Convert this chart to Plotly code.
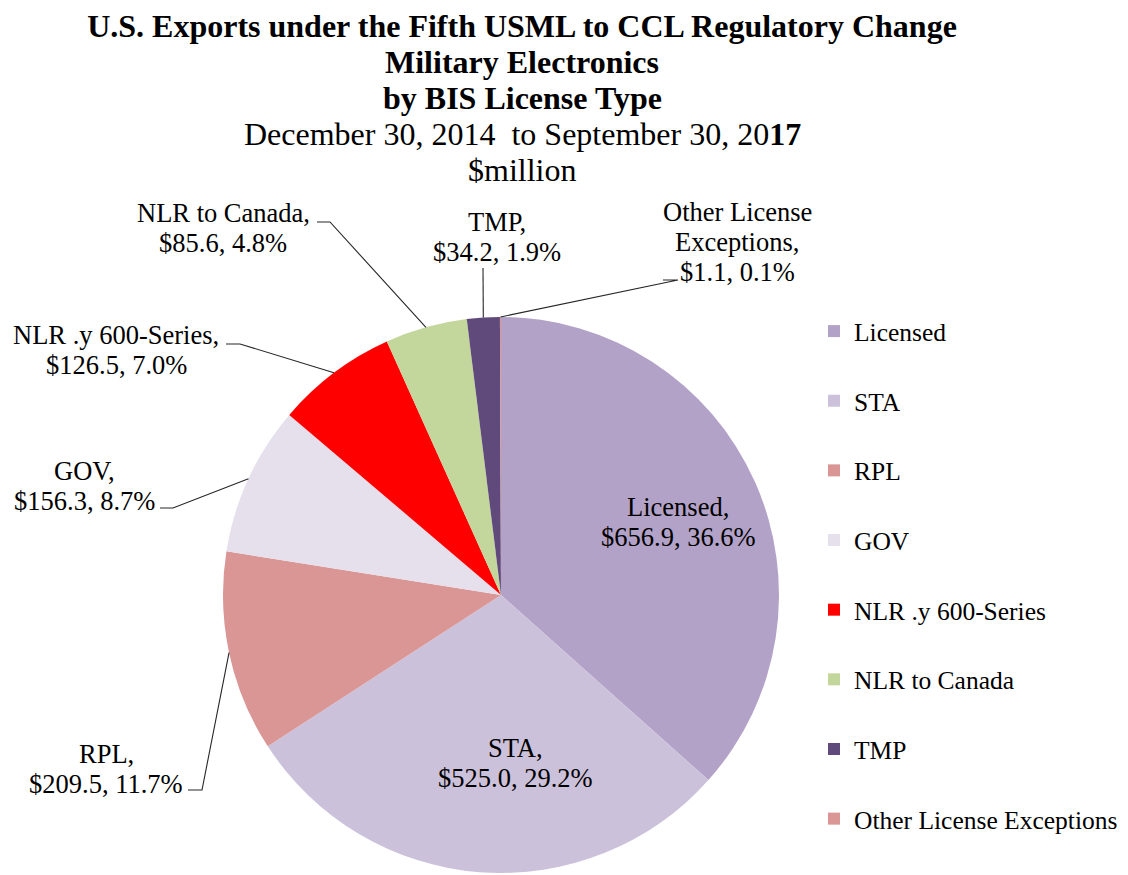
import math
import plotly.graph_objects as go

# ---- data ----
categories = ["Licensed", "STA", "RPL", "GOV", "NLR .y 600-Series",
              "NLR to Canada", "TMP", "Other License Exceptions"]
values = [656.9, 525.0, 209.5, 156.3, 126.5, 85.6, 34.2, 1.1]
colors = ["#B3A2C7", "#CCC1DA", "#D99694", "#E6E0EC", "#FF0000",
          "#C3D69B", "#604A7B", "#D99694"]
label_names = ["Licensed", "STA", "RPL", "GOV", "NLR .y 600-Series",
               "NLR to Canada", "TMP", "Other License<br>Exceptions"]

PAGE_W, PAGE_H = 1128, 875
OFF = 8  # default body margin of the html page
W, H = PAGE_W - OFF, PAGE_H - OFF
FONT = "Liberation Serif, Times New Roman, serif"
CX, CY, R = 501, 595, 278  # pie centre / radius in page pixels


def px(x):
    return (x - OFF) / W


def py(y):
    return 1 - (y - OFF) / H


fig = go.Figure()
fig.add_trace(go.Pie(
    labels=categories, values=values, sort=False, direction="clockwise",
    rotation=0, marker=dict(colors=colors, line=dict(width=0)),
    textinfo="none", showlegend=False, hoverinfo="label+value+percent",
    domain=dict(x=[px(CX - R), px(CX + R)], y=[py(CY + R), py(CY - R)]),
))

# legend entries (one group per category for spacing like the original)
for c, col in zip(categories, colors):
    fig.add_trace(go.Scatter(
        x=[None], y=[None], mode="markers", name=c, legendgroup=c,
        marker=dict(symbol="square", size=13, color=col),
    ))

total = sum(values)

# label placement: (text centre x, first line y, leader path points on label side)
placement = {
    "Licensed": dict(x=678, y=507, leader=None),
    "STA": dict(x=515, y=748, leader=None),
    "RPL": dict(x=106, y=754, leader=[(188, 790), (202, 790)]),
    "GOV": dict(x=84, y=471, leader=[(160, 508), (173, 508)]),
    "NLR .y 600-Series": dict(x=116, y=335, leader=[(226, 344), (240, 344)]),
    "NLR to Canada": dict(x=223, y=213, leader=[(317, 222), (330, 222)]),
    "TMP": dict(x=497, y=222, leader=[(483, 268)]),
    "Other License Exceptions": dict(x=737, y=212, leader=[(663, 280), (678, 280)]),
}

annotations = []
shapes = []
cum = 0.0
LINE = 30
for cat, name, v in zip(categories, label_names, values):
    frac = v / total
    mid = (cum + frac / 2) * 2 * math.pi
    cum += frac
    p = placement[cat]
    lines = (name + ",").split("<br>") + [f"${v:.1f}, {frac * 100:.1f}%"]
    for i, t in enumerate(lines):
        annotations.append(dict(
            text=t, x=px(p["x"]), y=py(p["y"] + i * LINE), xref="paper", yref="paper",
            xanchor="center", yanchor="middle", showarrow=False,
            font=dict(family=FONT, size=26.5, color="#000000"),
        ))
    if p["leader"]:
        ex = CX + R * math.sin(mid)
        ey = CY - R * math.cos(mid)
        pts = p["leader"] + [(ex, ey)]
        path = "M " + " L ".join(f"{px(a):.5f},{py(b):.5f}" for a, b in pts)
        shapes.append(dict(type="path", path=path, xref="paper", yref="paper",
                           line=dict(color="#262626", width=1.1)))

# title lines
title_lines = [
    ("<b>U.S. Exports under the Fifth USML to CCL Regulatory Change</b>", 26),
    ("<b>Military Electronics</b>", 62),
    ("<b>by BIS License Type</b>", 98),
    ("December 30, 2014  to September 30, 20<b>17</b>", 134),
    ("$million", 170),
]
for t, y in title_lines[1:]:
    annotations.append(dict(
        text=t, x=px(522), y=py(y), xref="paper", yref="paper",
        xanchor="center", yanchor="middle", showarrow=False,
        font=dict(family=FONT, size=32, color="#000000"),
    ))

fig.update_layout(
    width=W, height=H,
    margin=dict(l=0, r=0, t=0, b=0),
    paper_bgcolor="white", plot_bgcolor="white",
    title=dict(text=title_lines[0][0], x=px(522), xanchor="center",
               y=py(title_lines[0][1]), yanchor="middle",
               font=dict(family=FONT, size=32, color="#000000")),
    xaxis=dict(visible=False), yaxis=dict(visible=False),
    legend=dict(x=px(814), xanchor="left", y=py(308), yanchor="top",
                font=dict(family=FONT, size=25.5, color="#000000"),
                tracegroupgap=33.5, itemsizing="constant", bgcolor="rgba(0,0,0,0)"),
    annotations=annotations, shapes=shapes,
)

fig.write_html("out.html")
